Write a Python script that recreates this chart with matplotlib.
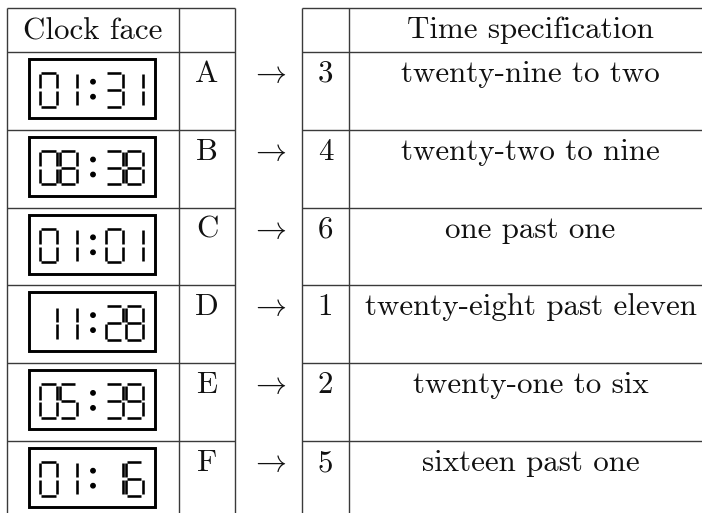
import matplotlib
matplotlib.use("Agg")
import matplotlib.pyplot as plt
from matplotlib.patches import Rectangle, Circle

# ---- data ----
clock_times = ["01:31", "08:38", "01:01", "11:28", "05:39", "01:16"]
labels = ["A", "B", "C", "D", "E", "F"]
numbers = ["3", "4", "6", "1", "2", "5"]
specs = ["twenty-nine to two", "twenty-two to nine", "one past one",
         "twenty-eight past eleven", "twenty-one to six", "sixteen past one"]
header_left = "Clock face"
header_right = "Time specification"

plt.rcParams['mathtext.fontset'] = 'cm'
W, H = 702, 513
fig = plt.figure(figsize=(W / 100, H / 100), dpi=100)
ax = fig.add_axes([0, 0, 1, 1])
ax.set_xlim(0, W)
ax.set_ylim(H, 0)
ax.axis('off')

FONT = 'cmr10'
FS = 22.3
LINE_C = '#3a3a3a'
LW = 1.0

# layout (pixel coordinates)
x_left = [7, 179, 235]
x_right = [302, 349, 712]
y_top = 8
y_head = 52
row_h = 77.8
n = len(clock_times)
y_rows = [y_head + i * row_h for i in range(n + 1)]
y_lines = [y_top] + y_rows

# grid
for xs in (x_left, x_right):
    for y in y_lines:
        ax.plot([xs[0], xs[-1]], [y, y], color=LINE_C, lw=LW, solid_capstyle='butt')
    for x in xs:
        ax.plot([x, x], [y_top, y_rows[-1]], color=LINE_C, lw=LW, solid_capstyle='butt')

def txt(x, y, s, fs=FS, **kw):
    ax.text(x, y, s, ha='center', va='baseline', fontsize=fs, family=FONT,
            color='#111111', **kw)

c_clock = (x_left[0] + x_left[1]) / 2
c_lab = (x_left[1] + x_left[2]) / 2
c_arrow = (x_left[2] + x_right[0]) / 2
c_num = (x_right[0] + x_right[1]) / 2
c_spec = (x_right[1] + x_right[2]) / 2

txt(c_clock, y_top + 31, header_left)
txt(c_spec, y_top + 30, header_right)

SEGS = {
    '0': 'abcdef', '1': 'bc', '2': 'abged', '3': 'abgcd', '4': 'fgbc',
    '5': 'afgcd', '6': 'afgedc', '7': 'abc', '8': 'abcdefg', '9': 'abcdfg',
}

def draw_digit(ch, x0, y0, w=17, h=33.5, g=1.3, lw=1.85):
    x1, y1 = x0 + w, y0 + h
    ym = (y0 + y1) / 2
    seg = {
        'a': ((x0 + g, y0), (x1 - g, y0)),
        'b': ((x1, y0 + g), (x1, ym - g)),
        'c': ((x1, ym + g), (x1, y1 - g)),
        'd': ((x0 + g, y1), (x1 - g, y1)),
        'e': ((x0, ym + g), (x0, y1 - g)),
        'f': ((x0, y0 + g), (x0, ym - g)),
        'g': ((x0 + g, ym), (x1 - g, ym)),
    }
    for s in SEGS[ch]:
        (xa, ya), (xb, yb) = seg[s]
        ax.plot([xa, xb], [ya, yb], color='black', lw=lw, solid_capstyle='butt')

def draw_clock(t, top):
    bx0 = c_clock - 64
    ax.add_patch(Rectangle((bx0, top + 7), 126, 59, fill=False, ec='black', lw=2.1))
    offs = [11, 30.5, 76.5, 96.5]
    digits = t.replace(':', '')
    for d, o in zip(digits, offs):
        draw_digit(d, bx0 + o, top + 21)
    for yy in (top + 29.7, top + 44.7):
        ax.add_patch(Circle((bx0 + 64, yy), 2.2, color='black'))

for i in range(n):
    top = y_rows[i]
    base = top + 30
    draw_clock(clock_times[i], top)
    txt(c_lab, base, labels[i])
    txt(c_arrow, base, r'$\rightarrow$')
    txt(c_num, base, numbers[i])
    txt(c_spec, base, specs[i])

fig.savefig('out.png', dpi=100)
